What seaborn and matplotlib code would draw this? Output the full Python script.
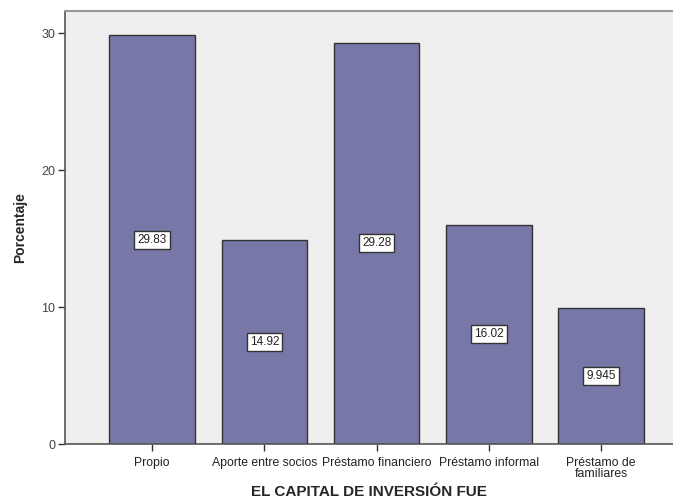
import numpy as np
import pandas as pd
import matplotlib
matplotlib.use("Agg")
import matplotlib.pyplot as plt
import seaborn as sns

# Data
categories = ["Propio", "Aporte entre socios", "Préstamo financiero",
              "Préstamo informal", "Préstamo de\nfamiliares"]
percentages = [29.83, 14.92, 29.28, 16.02, 9.945]
value_labels = ["29.83", "14.92", "29.28", "16.02", "9.945"]

df = pd.DataFrame({"cat": categories, "pct": percentages})

sns.set_style("white")
plt.rcParams['font.family'] = ['Liberation Sans', 'DejaVu Sans']

fig = plt.figure(figsize=(6.73, 5.04), dpi=100)
ax = fig.add_axes([0.0966, 0.119, 0.9034, 0.859])
ax.set_facecolor("#efefef")

sns.barplot(data=df, x="cat", y="pct", color="#7878a8", saturation=1,
            width=0.76, edgecolor="#333333", linewidth=1.0, ax=ax)

# value boxes at bar mid-height
for i, (v, lab) in enumerate(zip(percentages, value_labels)):
    ax.text(i, v / 2, lab, ha="center", va="center", fontsize=8.5, color="#222222",
            bbox=dict(boxstyle="square,pad=0.25", facecolor="white",
                      edgecolor="#333333", linewidth=1.0))

ax.set_xlim(-0.775, 4.64)
ax.set_ylim(0, 31.6)
ax.set_yticks([0, 10, 20, 30])
ax.tick_params(axis="both", direction="out", length=5, width=1,
               color="#333333", labelsize=8.8, labelcolor="#222222")
ax.tick_params(axis="y", left=True, pad=2, labelcolor="#444444", labelsize=9)
ax.tick_params(axis="x", bottom=True, pad=4)
for lbl in ax.get_xticklabels():
    lbl.set_linespacing(0.9)

ax.set_ylabel("Porcentaje", fontsize=10, fontweight="bold", labelpad=10)
ax.set_xlabel("EL CAPITAL DE INVERSIÓN FUE", fontsize=11, fontweight="bold", labelpad=4)

ax.spines["left"].set_color("#555555")
ax.spines["bottom"].set_color("#555555")
ax.spines["top"].set_color("#999999")
ax.spines["left"].set_linewidth(1.2)
ax.spines["bottom"].set_linewidth(1.2)
ax.spines["top"].set_linewidth(1.5)
ax.spines["right"].set_visible(False)

fig.savefig("out.png", dpi=100)
